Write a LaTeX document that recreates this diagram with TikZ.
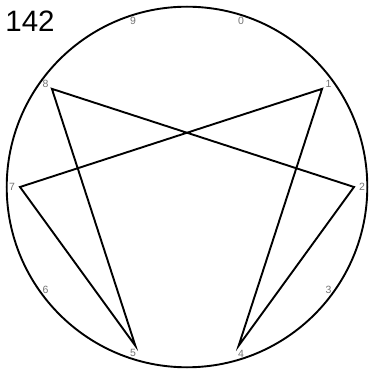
\documentclass[tikz,border=0pt]{standalone}
\usepackage{fontspec}
\setmainfont{Liberation Sans}
\usetikzlibrary{calc}
\begin{document}
\begin{tikzpicture}[x=1pt,y=1pt,
  rim/.style={line width=1.9pt},
  chord/.style={line width=1.9pt,line join=miter},
  numlbl/.style={font=\fontsize{10.5}{11}\selectfont,text=black!55,inner sep=0pt},
  titlelbl/.style={font=\fontsize{29.5}{30}\selectfont,inner sep=0pt}]
\useasboundingbox (0,0) rectangle (368,370);
\coordinate (c) at (187,183);
\draw[rim] (c) circle (180.3);
\foreach \i in {0,...,9}{
  \pgfmathsetmacro{\ang}{72-36*\i}
  \coordinate (p\i) at ($(c)+(\ang:167)$);
  \node[numlbl] (l\i) at ($(c)+(\ang:175)$) {\i};
}
\draw[chord] (p1) -- (p4) -- (p2) -- (p8) -- (p5) -- (p7) -- cycle;
\node[titlelbl] (title) at (30,348.5) {142};
\end{tikzpicture}
\end{document}
